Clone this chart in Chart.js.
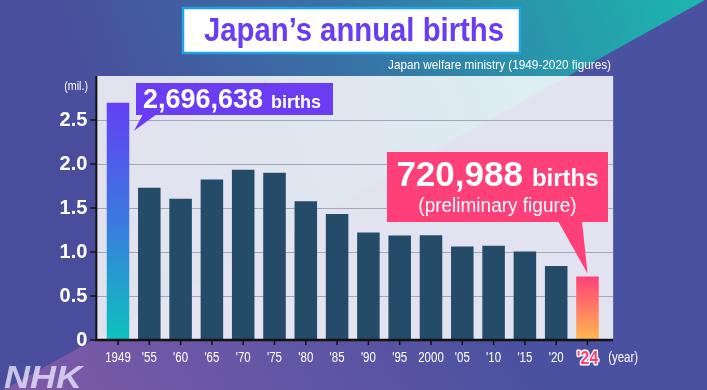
<!DOCTYPE html>
<html>
<head>
<meta charset="utf-8">
<script src="https://cdn.jsdelivr.net/npm/chart.js@4.4.1/dist/chart.umd.min.js"></script>
<style>
    html, body { margin: 0; padding: 0; background: #4a4f9c; }
    #birthsChart { display: block; }
</style>
</head>
<body>
<canvas id="birthsChart" width="707" height="390"></canvas>
<script>
// year labels on the x axis
const years = ['1949', "'55", "'60", "'65", "'70", "'75", "'80", "'85", "'90", "'95", '2000', "'05", "'10", "'15", "'20", "'24"];
// births in millions
const births = [2.696638, 1.730692, 1.606041, 1.823697, 1.934239, 1.901440, 1.576889, 1.431577,
    1.221585, 1.187064, 1.190547, 1.062530, 1.071304, 1.005721, 0.840835, 0.720988];

const titleText = 'Japan\u2019s annual births';
const sourceText = 'Japan welfare ministry (1949-2020 figures)';
const unitText = '(mil.)';
const yearUnitText = '(year)';
const peakNumber = '2,696,638';
const latestNumber = '720,988';
const birthsWord = 'births';
const latestNote = '(preliminary figure)';

const SANS = '"Liberation Sans", Arial, sans-serif';
const BAR_DARK = '#244b68';
const PURPLE = '#6a3df2';
const PINK = '#ff3f78';
const NARROW_SCALE = 0.82; // no narrow face installed, so squeeze by hand

// draws text squeezed horizontally by sx
function squeezeText(ctx, text, x, y, sx, align, stroke) {
    const w = ctx.measureText(text).width * sx;
    let startX = x;
    if (align === 'right') startX = x - w;
    if (align === 'center') startX = x - w / 2;
    ctx.save();
    ctx.textAlign = 'left';
    ctx.translate(startX, y);
    ctx.scale(sx, 1);
    if (stroke) ctx.strokeText(text, 0, 0);
    ctx.fillText(text, 0, 0);
    ctx.restore();
}

// draws text stretched to an exact width
function fitText(ctx, text, x, y, width, align) {
    squeezeText(ctx, text, x, y, width / ctx.measureText(text).width, align);
}

function barGradient(context, stops, fallback) {
    const chart = context.chart;
    if (!chart.chartArea) return fallback;
    const top = chart.scales.y.getPixelForValue(context.raw);
    const bottom = chart.scales.y.getPixelForValue(0);
    const g = chart.ctx.createLinearGradient(0, top, 0, bottom);
    stops.forEach(s => g.addColorStop(s[0], s[1]));
    return g;
}

const backdropPlugin = {
    id: 'backdrop',
    beforeDraw(chart) {
        const ctx = chart.ctx;
        const W = chart.width, H = chart.height;
        const area = chart.chartArea;

        // upper-left part: blue-purple fading to teal
        const gA = ctx.createLinearGradient(120, 220, 700, 0);
        gA.addColorStop(0, '#4a4d9c');
        gA.addColorStop(0.45, '#3773a6');
        gA.addColorStop(1, '#1cb6ae');
        ctx.fillStyle = gA;
        ctx.fillRect(0, 0, W, H);

        // lower-right part, split by the diagonal
        ctx.save();
        ctx.beginPath();
        ctx.moveTo(705, 0);
        ctx.lineTo(W, 0);
        ctx.lineTo(W, H);
        ctx.lineTo(3, H);
        ctx.closePath();
        const gB = ctx.createLinearGradient(0, 390, 430, 170);
        gB.addColorStop(0, '#805aa7');
        gB.addColorStop(0.5, '#6556a6');
        gB.addColorStop(1, '#4a51a0');
        ctx.fillStyle = gB;
        ctx.fill();
        ctx.restore();

        // plot panel
        ctx.fillStyle = 'rgba(255,255,255,0.84)';
        ctx.fillRect(area.left - 6, area.top, area.right - area.left + 16, area.bottom - area.top);

        // title box
        ctx.fillStyle = '#ffffff';
        ctx.fillRect(183, 8, 337, 45);
        ctx.strokeStyle = '#22a2e6';
        ctx.lineWidth = 2.5;
        ctx.strokeRect(183, 8, 337, 45);
        ctx.fillStyle = PURPLE;
        ctx.font = 'bold 33px ' + SANS;
        ctx.textBaseline = 'alphabetic';
        fitText(ctx, titleText, 354, 41, 300, 'center');

        // source note
        ctx.fillStyle = '#ffffff';
        ctx.font = '13px ' + SANS;
        fitText(ctx, sourceText, 611, 69, 223, 'right');

        // unit label
        ctx.font = '13px ' + SANS;
        squeezeText(ctx, unitText, 88, 90, NARROW_SCALE, 'right');

        // logo
        ctx.save();
        ctx.fillStyle = 'rgba(225,220,248,0.85)';
        ctx.font = 'italic bold 31px ' + SANS;
        fitText(ctx, 'NHK', 4, 388, 78, 'left');
        ctx.restore();
    },
    beforeDatasetsDraw(chart) {
        const ctx = chart.ctx;
        const area = chart.chartArea;
        const y = chart.scales.y;
        ctx.save();
        ctx.strokeStyle = '#a3a6b6';
        ctx.lineWidth = 1;
        y.ticks.forEach(t => {
            if (t.value === 0 || t.value >= 3) return;
            const py = Math.round(y.getPixelForValue(t.value)) + 0.5;
            ctx.beginPath();
            ctx.moveTo(area.left - 6, py);
            ctx.lineTo(area.right + 10, py);
            ctx.stroke();
        });
        ctx.restore();
    },
    afterDatasetsDraw(chart) {
        const ctx = chart.ctx;
        const area = chart.chartArea;
        const x = chart.scales.x;
        const y = chart.scales.y;
        const axisX = area.left - 6;
        ctx.save();

        // axes
        ctx.strokeStyle = '#111111';
        ctx.lineWidth = 2;
        ctx.beginPath();
        ctx.moveTo(axisX, area.top);
        ctx.lineTo(axisX, area.bottom);
        ctx.stroke();
        ctx.lineWidth = 2.5;
        ctx.beginPath();
        ctx.moveTo(axisX - 1, area.bottom);
        ctx.lineTo(area.right + 10, area.bottom);
        ctx.stroke();

        // tick marks
        ctx.lineWidth = 1.5;
        y.ticks.forEach(t => {
            if (t.value >= 3) return;
            const py = y.getPixelForValue(t.value);
            ctx.beginPath();
            ctx.moveTo(axisX - 6, py);
            ctx.lineTo(axisX, py);
            ctx.stroke();
        });
        years.forEach((lab, i) => {
            const px = x.getPixelForValue(i);
            ctx.beginPath();
            ctx.moveTo(px, area.bottom);
            ctx.lineTo(px, area.bottom + 5);
            ctx.stroke();
        });

        // x tick labels
        ctx.textBaseline = 'alphabetic';
        years.forEach((lab, i) => {
            const px = x.getPixelForValue(i);
            if (i === years.length - 1) {
                ctx.font = 'bold 18px ' + SANS;
                ctx.fillStyle = PINK;
                ctx.strokeStyle = '#ffffff';
                ctx.lineWidth = 3;
                ctx.lineJoin = 'round';
                squeezeText(ctx, lab, px, 364, 0.88, 'center', true);
            } else {
                ctx.font = '14px ' + SANS;
                ctx.fillStyle = '#ffffff';
                squeezeText(ctx, lab, px, 362, NARROW_SCALE, 'center');
            }
        });

        // year unit
        ctx.fillStyle = '#ffffff';
        ctx.font = '14px ' + SANS;
        squeezeText(ctx, yearUnitText, area.right + 5, 362, NARROW_SCALE, 'left');

        const meta = chart.getDatasetMeta(0);
        const first = meta.data[0];
        const last = meta.data[meta.data.length - 1];

        // peak callout
        const bx = first.x + 18, by = 83, bw = 197, bh = 32;
        ctx.fillStyle = PURPLE;
        ctx.fillRect(bx, by, bw, bh);
        ctx.beginPath();
        ctx.moveTo(bx + 7, by + bh - 1);
        ctx.lineTo(bx + 21, by + bh - 1);
        ctx.lineTo(first.x + 16, first.y + 28);
        ctx.closePath();
        ctx.fill();
        ctx.fillStyle = '#ffffff';
        ctx.textAlign = 'left';
        ctx.font = 'bold 27px ' + SANS;
        ctx.fillText(peakNumber, bx + 7, by + 25);
        const w1 = ctx.measureText(peakNumber).width;
        ctx.font = 'bold 18px ' + SANS;
        ctx.fillText(birthsWord, bx + 7 + w1 + 8, by + 25);

        // latest callout
        const pr = last.x + 20.5, pl = 387, pt = 152, pb = 222;
        ctx.fillStyle = PINK;
        ctx.fillRect(pl, pt, pr - pl, pb - pt);
        ctx.beginPath();
        ctx.moveTo(558, pb - 1);
        ctx.lineTo(582, pb - 1);
        ctx.lineTo(last.x, last.y - 3);
        ctx.closePath();
        ctx.fill();
        const cx = (pl + pr) / 2;
        ctx.fillStyle = '#ffffff';
        ctx.font = 'bold 35px ' + SANS;
        const n1 = ctx.measureText(latestNumber).width;
        ctx.font = 'bold 24px ' + SANS;
        const n2 = ctx.measureText(birthsWord).width;
        const startX = cx - (n1 + 9 + n2) / 2;
        ctx.font = 'bold 35px ' + SANS;
        ctx.fillText(latestNumber, startX, 186);
        ctx.font = 'bold 24px ' + SANS;
        ctx.fillText(birthsWord, startX + n1 + 9, 186);
        ctx.font = '20px ' + SANS;
        squeezeText(ctx, latestNote, cx, 212, 0.95, 'center');

        ctx.restore();
    }
};

const ctx = document.getElementById('birthsChart').getContext('2d');
const birthsChart = new Chart(ctx, {
    type: 'bar',
    data: {
        labels: years,
        datasets: [{
            data: births,
            backgroundColor: function(c) {
                if (c.dataIndex === 0) {
                    return barGradient(c, [[0, '#6340f4'], [0.5, '#3a7ae0'], [1, '#0dc3bd']], '#4a70e0');
                }
                if (c.dataIndex === births.length - 1) {
                    return barGradient(c, [[0, '#ff4078'], [1, '#ffb94e']], PINK);
                }
                return BAR_DARK;
            },
            borderWidth: 0,
            categoryPercentage: 1,
            barPercentage: 0.72
        }]
    },
    options: {
        responsive: false,
        devicePixelRatio: 1,
        animation: false,
        layout: {
            padding: { left: 42.35, right: 103.85, top: 76, bottom: 10 }
        },
        plugins: {
            legend: { display: false },
            tooltip: { enabled: false }
        },
        scales: {
            x: {
                offset: true,
                grid: { display: false, drawTicks: false },
                border: { display: false },
                // labels are drawn squeezed by the plugin
                ticks: { display: false },
                afterFit: function(scale) { scale.height = 40; }
            },
            y: {
                min: 0,
                max: 3,
                grid: { display: false, drawTicks: false },
                border: { display: false },
                ticks: {
                    stepSize: 0.5,
                    padding: 15,
                    color: '#ffffff',
                    font: { family: SANS, size: 20, weight: 'bold' },
                    callback: function(v) {
                        if (v >= 3) return null;
                        return v === 0 ? '0' : v.toFixed(1);
                    }
                },
                afterFit: function(scale) { scale.width = 60; }
            }
        }
    },
    plugins: [backdropPlugin]
});
</script>
</body>
</html>
